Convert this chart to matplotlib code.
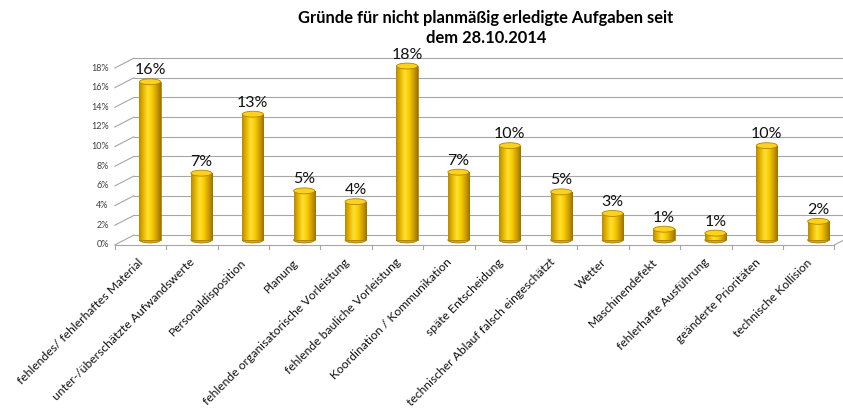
import numpy as np
import matplotlib.pyplot as plt
from matplotlib.patches import Ellipse
from matplotlib.colors import LinearSegmentedColormap

plt.rcParams['font.family'] = ['Lato', 'DejaVu Sans']

title = 'Gründe für nicht planmäßig erledigte Aufgaben seit\ndem 28.10.2014'
categories = ['fehlendes/ fehlerhaftes Material', 'unter-/überschätzte Aufwandswerte',
              'Personaldisposition', 'Planung', 'fehlende organisatorische Vorleistung',
              'fehlende bauliche Vorleistung', 'Koordination / Kommunikation',
              'späte Entscheidung', 'technischer Ablauf falsch eingeschätzt', 'Wetter',
              'Maschinendefekt', 'fehlerhafte Ausführung', 'geänderte Prioritäten',
              'technische Kollision']
values = [16.1, 6.8, 12.8, 5.0, 3.9, 17.7, 6.9, 9.6, 4.9, 2.7, 1.1, 0.7, 9.6, 1.9]
y_ticks = [0, 2, 4, 6, 8, 10, 12, 14, 16, 18]

# fake 3d depth (data units)
dx, dy = 0.185, 0.5
bw = 0.41
eh = 0.6

cyl = LinearSegmentedColormap.from_list('cyl', ['#B88A00', '#E8B800', '#FFE033', '#F8CC00', '#D0A000', '#9C7300'])
grad = np.linspace(0, 1, 64).reshape(1, -1)

fig = plt.figure(figsize=(8.43, 4.12), dpi=100)
ax = fig.add_axes([60 / 843, 162 / 412, 783 / 843, 210 / 412])
ax.axis('off')

n = len(categories)
x = np.arange(n)

# back wall grid + left side diagonals
for v in y_ticks:
    ax.plot([-0.5 + dx, n - 0.5 + dx + 1], [v + dy, v + dy], color='#A6A6A6', lw=0.8, zorder=1)
    ax.plot([-0.5 - dx, -0.5 + dx], [v - dy, v + dy], color='#A6A6A6', lw=0.8, zorder=1)
    ax.text(-0.5 - dx - 0.12, v - dy, f'{v}%', ha='right', va='center', fontsize=6.5, color='#404040')

# front floor edge with ticks
ax.plot([-0.5 - dx, n - 0.5 - dx], [-dy, -dy], color='#A6A6A6', lw=0.8, zorder=1)
ax.plot([n - 0.5 - dx, n - 0.5 + dx], [-dy, dy], color='#A6A6A6', lw=0.8, zorder=1)
for k in range(n + 1):
    ax.plot([k - 0.5 - dx, k - 0.5 - dx], [-dy, -dy - 0.5], color='#A6A6A6', lw=0.8, zorder=1)

bars = ax.bar(x, values, width=bw, color='#F0C000', edgecolor='#9C7300', lw=0.5, zorder=3)
for i, (b, v) in enumerate(zip(bars, values)):
    ax.add_patch(Ellipse((i, 0), bw, eh, facecolor='#D9A800', edgecolor='#9C7300', lw=0.5, zorder=2))
    im = ax.imshow(grad, cmap=cyl, extent=(i - bw / 2, i + bw / 2, 0, v), aspect='auto', zorder=3.5)
    im.set_clip_path(b)
    ax.add_patch(Ellipse((i, v), bw, eh, facecolor='#FFD21A', edgecolor='#B08500', lw=0.6, zorder=4))
    ax.text(i, v + 0.45, f'{round(v)}%', ha='center', va='bottom', fontsize=11.5, color='#111111', zorder=5)

for i, c in enumerate(categories):
    ax.text(i - dx - 0.05, -dy - 1.2, c, rotation=45, ha='right', va='top',
            rotation_mode='anchor', fontsize=8.7, color='#111111')

ax.set_xlim(-1.751, 13.482)
ax.set_ylim(-1.017, 20.35)

fig.text(486 / 843, 1 - 28 / 412, title, ha='center', va='center', fontsize=11.9,
         fontweight='bold', linespacing=1.25)

fig.savefig('out.png', dpi=100)
